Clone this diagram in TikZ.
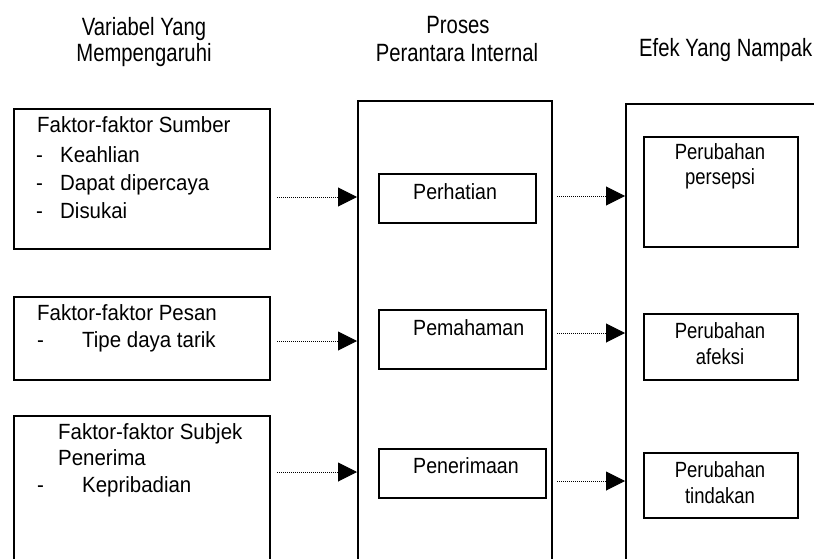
\documentclass[tikz,border=0pt]{standalone}
\usepackage{fontspec}
\setmainfont{Liberation Sans}
\newfontfamily\hdrf[FakeStretch=0.81]{Liberation Sans}
\newfontfamily\lftf[FakeStretch=0.93]{Liberation Sans}
\newfontfamily\midf[FakeStretch=0.89]{Liberation Sans}
\newfontfamily\rgtf[FakeStretch=0.84]{Liberation Sans}
\usetikzlibrary{arrows.meta}
\begin{document}
\begin{tikzpicture}[x=1pt,y=-1pt,
  box/.style={draw, line width=1.7pt, rectangle, inner sep=0pt, anchor=north west},
  hdr/.style={font=\hdrf\fontsize{25}{30}\selectfont, inner sep=0pt, anchor=base},
  lt/.style={font=\lftf\fontsize{22}{27}\selectfont, inner sep=0pt, anchor=base west},
  mt/.style={font=\midf\fontsize{22}{27}\selectfont, inner sep=0pt, anchor=base west},
  rt/.style={font=\rgtf\fontsize{22}{27}\selectfont, inner sep=0pt, anchor=base},
  conn/.style={line width=1pt, dash pattern=on 1pt off 1pt, -{Triangle[length=19pt,width=19pt]}}]
\useasboundingbox (0,0) rectangle (814,559);
\clip (0,0) rectangle (814,559);
% headers
\node[hdr] (h1a) at (144,36) {Variabel Yang};
\node[hdr] (h1b) at (144,62) {Mempengaruhi};
\node[hdr] (h2a) at (458,34) {Proses};
\node[hdr] (h2b) at (457,62) {Perantara Internal};
\node[hdr, anchor=base west] (h3) at (639,57) {Efek Yang Nampak};
% left boxes
\node[box, minimum width=256pt, minimum height=140pt] (L1) at (13,108) {};
\node[box, minimum width=256pt, minimum height=83pt] (L2) at (13,296) {};
\node[box, minimum width=256pt, minimum height=200pt] (L3) at (13,415) {};
\node[lt] (l1a) at (37,133) {Faktor-faktor Sumber};
\node[lt] (l1b) at (36,163) {\makebox[24pt][l]{-}Keahlian};
\node[lt] (l1c) at (36,190) {\makebox[24pt][l]{-}Dapat dipercaya};
\node[lt] (l1d) at (36,218) {\makebox[24pt][l]{-}Disukai};
\node[lt] (l2a) at (37,320) {Faktor-faktor Pesan};
\node[lt] (l2b) at (37,347) {\makebox[45pt][l]{-}Tipe daya tarik};
\node[lt] (l3a) at (58,439) {Faktor-faktor Subjek};
\node[lt] (l3b) at (58,465) {Penerima};
\node[lt] (l3c) at (37,492) {\makebox[45pt][l]{-}Kepribadian};
% middle
\node[box, minimum width=194pt, minimum height=520pt] (M) at (357,100) {};
\node[box, minimum width=157pt, minimum height=49pt] (P1) at (378,173) {};
\node[box, minimum width=167pt, minimum height=59pt] (P2) at (378,309) {};
\node[box, minimum width=167pt, minimum height=49pt] (P3) at (378,448) {};
\node[mt] (m1) at (413,199) {Perhatian};
\node[mt] (m2) at (413,335) {Pemahaman};
\node[mt] (m3) at (413,473) {Penerimaan};
% right
\node[box, minimum width=300pt, minimum height=520pt] (R) at (625,103) {};
\node[box, minimum width=154pt, minimum height=110pt] (R1) at (643,136) {};
\node[box, minimum width=154pt, minimum height=66pt] (R2) at (643,313) {};
\node[box, minimum width=154pt, minimum height=65pt] (R3) at (643,452) {};
\node[rt] (r1a) at (720,160) {Perubahan};
\node[rt] (r1b) at (720,185) {persepsi};
\node[rt] (r2a) at (720,338) {Perubahan};
\node[rt] (r2b) at (720,364) {afeksi};
\node[rt] (r3a) at (720,477) {Perubahan};
\node[rt] (r3b) at (720,503) {tindakan};
% connectors
\coordinate (a1) at (277,197);
\coordinate (a2) at (277,341);
\coordinate (a3) at (277,472);
\coordinate (b1) at (557,196);
\coordinate (b2) at (557,333);
\coordinate (b3) at (557,481);
\draw[conn] (a1) -- (a1 -| M.west);
\draw[conn] (a2) -- (a2 -| M.west);
\draw[conn] (a3) -- (a3 -| M.west);
\draw[conn] (b1) -- (b1 -| R.west);
\draw[conn] (b2) -- (b2 -| R.west);
\draw[conn] (b3) -- (b3 -| R.west);
\end{tikzpicture}
\end{document}
